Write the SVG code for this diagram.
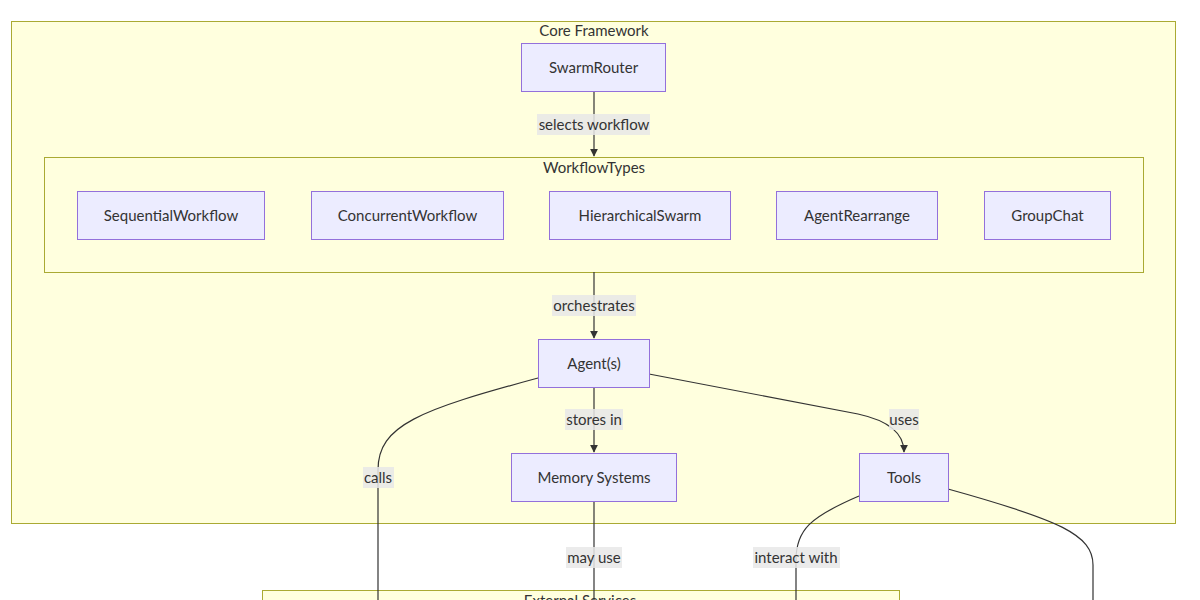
<svg xmlns="http://www.w3.org/2000/svg" width="1200" height="600" viewBox="0 0 1200 600">
<defs>
<marker id="arr" viewBox="0 0 10 10" refX="9" refY="5" markerWidth="8" markerHeight="8" markerUnits="userSpaceOnUse" orient="auto">
<path d="M0,0 L10,5 L0,10 z" fill="#333"/>
</marker>
<style>
text{font-family:"Lato","Liberation Sans",sans-serif;font-size:15px;fill:#333;text-anchor:middle;dominant-baseline:central}
.cl{fill:#ffffde;stroke:#aaaa33;stroke-width:1}
.nd{fill:#ececff;stroke:#9370db;stroke-width:1}
.ed{fill:none;stroke:#333;stroke-width:1.2}
.lb{fill:#e8e8e8;opacity:0.85}
</style>
</defs>
<rect width="1200" height="600" fill="#fff"/>
<g id="core-framework">
<rect class="cl" x="11.5" y="21.5" width="1164" height="502"/>
<text x="594" y="30">Core Framework</text>
</g>
<g id="workflow-types">
<rect class="cl" x="44.5" y="157.5" width="1099" height="115"/>
<text x="594" y="167">WorkflowTypes</text>
</g>
<g id="external-services">
<rect class="cl" x="262.5" y="590.5" width="637" height="40"/>
<text x="580" y="600">External Services</text>
</g>
<g id="connectors">
<path class="ed" d="M594,91 L594,156" marker-end="url(#arr)"/>
<path class="ed" d="M594,272 L594,338" marker-end="url(#arr)"/>
<path class="ed" d="M594,387 L594,452" marker-end="url(#arr)"/>
<path class="ed" d="M649,374 L858,414 Q904,424 904,452" marker-end="url(#arr)"/>
<path class="ed" d="M538,378 C420,410 378,425 378,470 L378,600"/>
<path class="ed" d="M594,501 L594,600"/>
<path class="ed" d="M859,496 C810,517 796,530 796,560 L796,600"/>
<path class="ed" d="M948,489 C1060,520 1093,535 1093,565 L1093,600"/>
<rect class="lb" x="537" y="114" width="113" height="21"/>
<text x="594" y="123.5">selects workflow</text>
<rect class="lb" x="552" y="295" width="84" height="21"/>
<text x="594" y="304.5">orchestrates</text>
<rect class="lb" x="565" y="409" width="58" height="21"/>
<text x="594" y="418.5">stores in</text>
<rect class="lb" x="889" y="409" width="30" height="21"/>
<text x="904" y="418.5">uses</text>
<rect class="lb" x="363" y="467" width="31" height="21"/>
<text x="378" y="476.5">calls</text>
<rect class="lb" x="566" y="547" width="56" height="21"/>
<text x="594" y="556.5">may use</text>
<rect class="lb" x="753" y="547" width="87" height="21"/>
<text x="796" y="556.5">interact with</text>
</g>
<g id="swarm-router"><rect class="nd" x="521.5" y="43.5" width="144" height="48"/><text x="593.5" y="66.5">SwarmRouter</text></g>
<g id="sequential-workflow"><rect class="nd" x="77.5" y="191.5" width="187" height="48"/><text x="171" y="214.5">SequentialWorkflow</text></g>
<g id="concurrent-workflow"><rect class="nd" x="311.5" y="191.5" width="192" height="48"/><text x="407.5" y="214.5">ConcurrentWorkflow</text></g>
<g id="hierarchical-swarm"><rect class="nd" x="549.5" y="191.5" width="181" height="48"/><text x="640" y="214.5">HierarchicalSwarm</text></g>
<g id="agent-rearrange"><rect class="nd" x="776.5" y="191.5" width="161" height="48"/><text x="857" y="214.5">AgentRearrange</text></g>
<g id="group-chat"><rect class="nd" x="984.5" y="191.5" width="126" height="48"/><text x="1047.5" y="214.5">GroupChat</text></g>
<g id="agents"><rect class="nd" x="538.5" y="339.5" width="111" height="48"/><text x="594" y="362.5">Agent(s)</text></g>
<g id="memory-systems"><rect class="nd" x="511.5" y="453.5" width="165" height="48"/><text x="594" y="476.5">Memory Systems</text></g>
<g id="tools"><rect class="nd" x="859.5" y="453.5" width="89" height="48"/><text x="904" y="476.5">Tools</text></g>
</svg>
